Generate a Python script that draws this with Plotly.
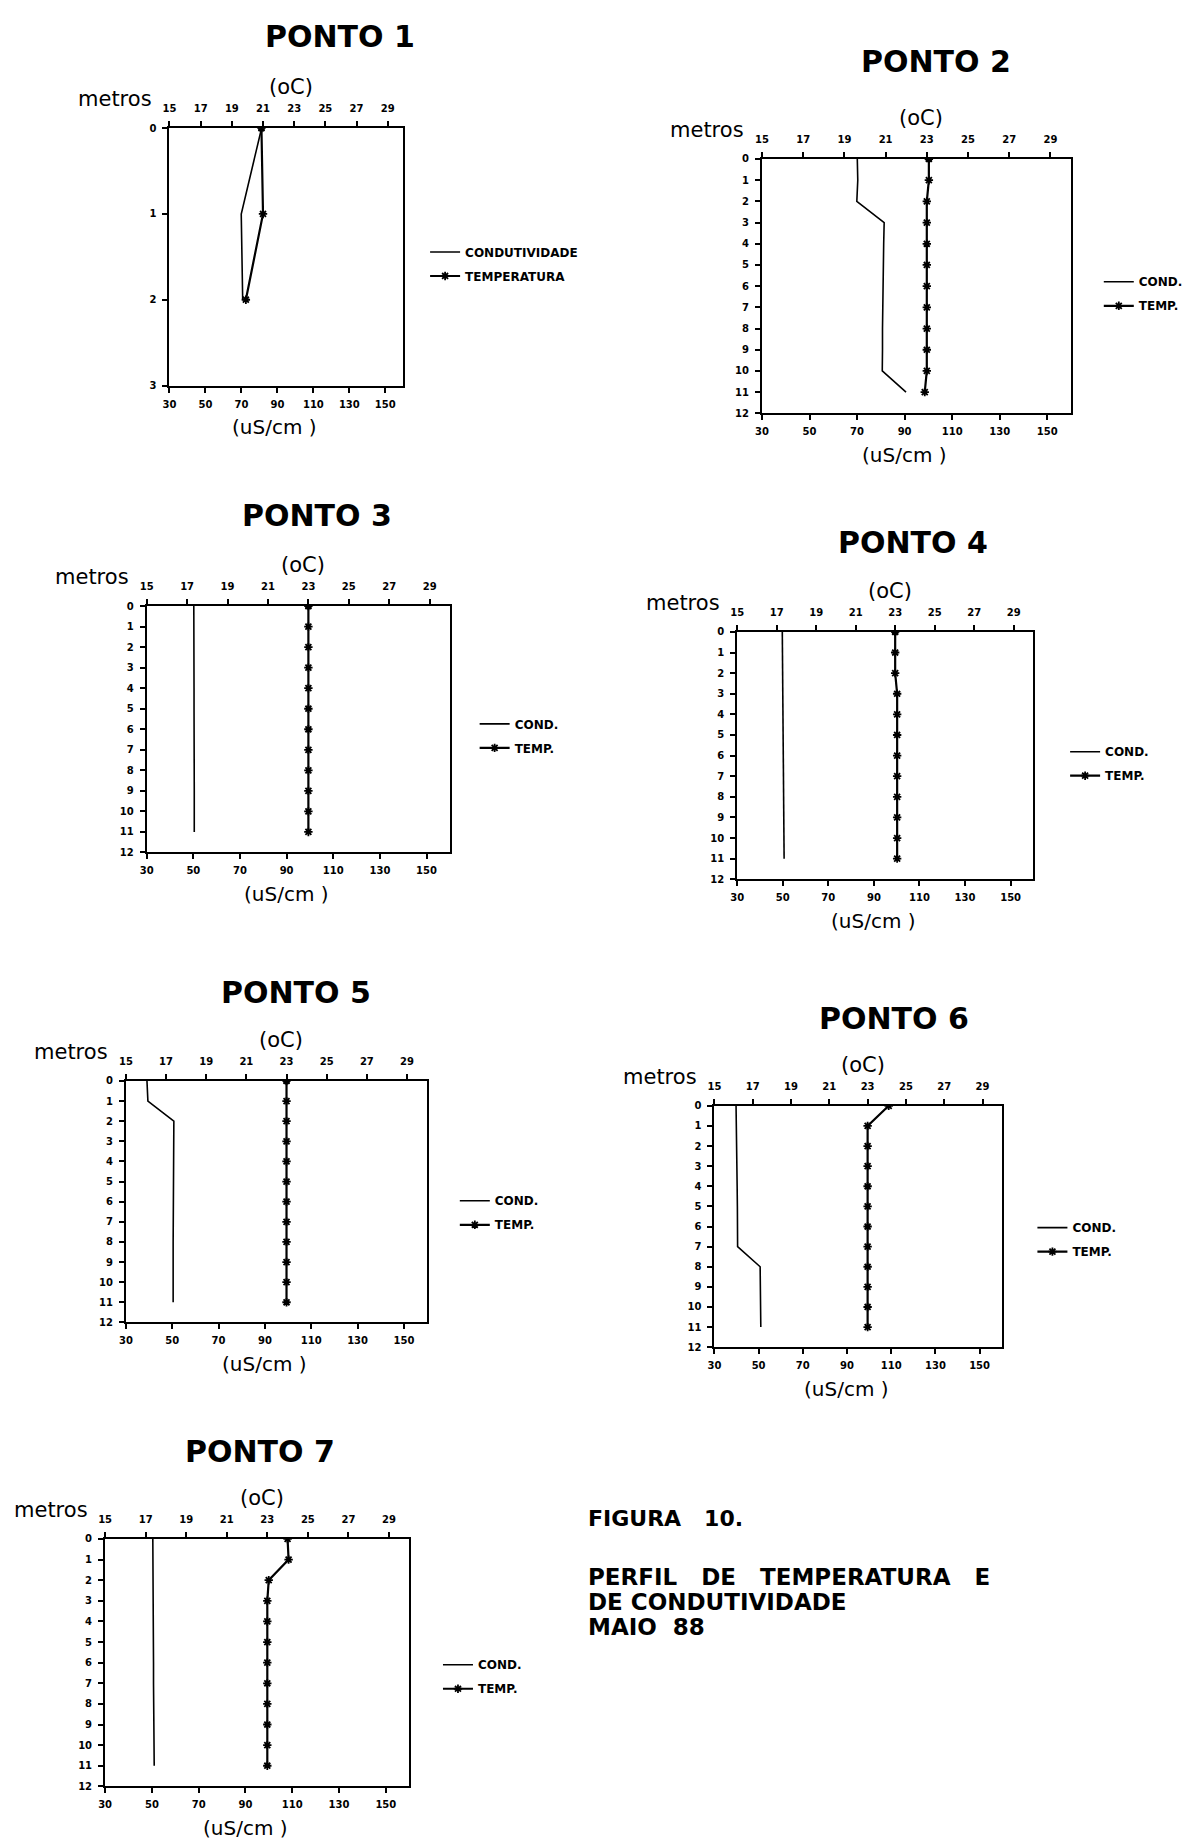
import plotly.graph_objects as go

# ---------------- data ----------------
PANEL_NAMES = ["PONTO 1", "PONTO 2", "PONTO 3", "PONTO 4", "PONTO 5", "PONTO 6", "PONTO 7"]

DEPTH_P1 = [0, 1, 2]
DEPTH = [0, 1, 2, 3, 4, 5, 6, 7, 8, 9, 10, 11]

COND_P1 = [81.2, 69.9, 70.7]
TEMP_P1 = [20.9, 21.0, 19.9]

COND_P2 = [70.1, 70.3, 69.9, 81.4, 81.2, 81.0, 80.9, 80.8, 80.7, 80.7, 80.6, 90.6]
TEMP_P2 = [23.1, 23.1, 23.0, 23.0, 23.0, 23.0, 23.0, 23.0, 23.0, 23.0, 23.0, 22.9]

COND_P3 = [50.2, 50.3, 50.3, 50.3, 50.3, 50.3, 50.4, 50.4, 50.4, 50.4, 50.4, 50.4]
TEMP_P3 = [23.0, 23.0, 23.0, 23.0, 23.0, 23.0, 23.0, 23.0, 23.0, 23.0, 23.0, 23.0]

COND_P4 = [49.8, 49.9, 50.0, 50.0, 50.1, 50.2, 50.2, 50.3, 50.3, 50.4, 50.5, 50.6]
TEMP_P4 = [23.0, 23.0, 23.0, 23.1, 23.1, 23.1, 23.1, 23.1, 23.1, 23.1, 23.1, 23.1]

COND_P5 = [39.1, 39.5, 50.7, 50.6, 50.6, 50.5, 50.5, 50.5, 50.4, 50.4, 50.4, 50.4]
TEMP_P5 = [23.0, 23.0, 23.0, 23.0, 23.0, 23.0, 23.0, 23.0, 23.0, 23.0, 23.0, 23.0]

COND_P6 = [39.8, 40.0, 40.1, 40.2, 40.3, 40.4, 40.4, 40.5, 50.7, 50.8, 50.9, 51.0]
TEMP_P6 = [24.1, 23.0, 23.0, 23.0, 23.0, 23.0, 23.0, 23.0, 23.0, 23.0, 23.0, 23.0]

COND_P7 = [50.4, 50.5, 50.5, 50.5, 50.6, 50.6, 50.7, 50.7, 50.8, 50.8, 50.9, 51.0]
TEMP_P7 = [24.0, 24.05, 23.07, 23.0, 23.0, 23.0, 23.0, 23.0, 23.0, 23.0, 23.0, 23.0]

DEPTHS = [DEPTH_P1, DEPTH, DEPTH, DEPTH, DEPTH, DEPTH, DEPTH]
CONDS = [COND_P1, COND_P2, COND_P3, COND_P4, COND_P5, COND_P6, COND_P7]
TEMPS = [TEMP_P1, TEMP_P2, TEMP_P3, TEMP_P4, TEMP_P5, TEMP_P6, TEMP_P7]
DEPTH_MAX = [3, 12, 12, 12, 12, 12, 12]

TEMP_TICKS = [15, 17, 19, 21, 23, 25, 27, 29]
COND_TICKS = [30, 50, 70, 90, 110, 130, 150]
TEMP_RANGE = [15, 30]
COND_RANGE = [30, 160]

LEGEND_LONG = ["CONDUTIVIDADE", "TEMPERATURA"]
LEGEND_SHORT = ["COND.", "TEMP."]

NB = "\u00a0"
CAPTION = ["FIGURA" + NB * 3 + "10.",
           "PERFIL" + NB * 3 + "DE" + NB * 3 + "TEMPERATURA" + NB * 3 + "E",
           "DE" + NB + "CONDUTIVIDADE",
           "MAIO" + NB * 2 + "88"]
CAPTION_Y = [1522, 1581, 1606, 1632]
CAPTION_SIZE = [22, 23, 23, 23]

# ---------------- layout (pixels) ----------------
W, H = 1188, 1846
BOXES = [(164, 123, 400, 382), (762, 154, 1074, 410), (141, 604, 447, 852),
         (737, 630, 1036, 879), (120, 1082, 424, 1325), (714, 1107, 1004, 1350),
         (99, 1543, 406, 1792)]
TITLE_POS = [(336, 31), (938, 56), (313, 513), (914, 540), (292, 993), (895, 1019), (255, 1455)]
LEGEND_POS = [(432, 251), (1112, 281), (482, 726), (1078, 754), (462, 1206), (1045, 1233), (445, 1673)]
SURFACE_DOT = [True, True, True, True, True, False, False]

FONT = "DejaVu Sans"


def px(x):
    return x / W


def py(y):
    return 1 - y / H


def label(x, y, text, size, bold=False, xanchor="center"):
    f = dict(family=FONT, size=size, color="black")
    if bold:
        f["weight"] = "bold"
    return dict(x=px(x), y=py(y), xref="paper", yref="paper", text=text,
                showarrow=False, xanchor=xanchor, yanchor="middle", font=f)


fig = go.Figure()
annotations = []
layout = {}

for i in range(7):
    x0, y0, x1, y1 = BOXES[i]
    xb = "x" if i == 0 else f"x{2 * i + 1}"
    xt = f"x{2 * i + 2}"
    ya = "y" if i == 0 else f"y{i + 1}"
    leg = "legend" if i == 0 else f"legend{i + 1}"
    names = LEGEND_LONG if i == 0 else LEGEND_SHORT

    fig.add_trace(go.Scatter(
        x=CONDS[i], y=DEPTHS[i], xaxis=xb, yaxis=ya, mode="lines",
        line=dict(color="black", width=1.6), name=names[0],
        legend=leg, legendgroup=f"c{i}"))
    fig.add_trace(go.Scatter(
        x=TEMPS[i], y=DEPTHS[i], xaxis=xt, yaxis=ya, mode="lines+markers",
        line=dict(color="black", width=2.2),
        marker=dict(symbol="asterisk-open", size=7, color="black",
                    line=dict(color="black", width=1.8)),
        name=names[1], legend=leg, legendgroup=f"t{i}"))
    if SURFACE_DOT[i]:
        fig.add_trace(go.Scatter(
            x=TEMPS[i][:1], y=DEPTHS[i][:1], xaxis=xt, yaxis=ya, mode="markers",
            marker=dict(symbol="circle", size=7, color="black"),
            showlegend=False, hoverinfo="skip"))

    tickfont = dict(family=FONT, size=10, color="black", weight="bold")
    common = dict(showline=True, linecolor="black", linewidth=2, ticks="outside",
                  ticklen=5, tickwidth=2, tickcolor="black", showgrid=False,
                  zeroline=False, tickfont=tickfont)
    xb_key = "xaxis" if i == 0 else f"xaxis{2 * i + 1}"
    xt_key = f"xaxis{2 * i + 2}"
    y_key = "yaxis" if i == 0 else f"yaxis{i + 1}"
    layout[xb_key] = dict(domain=[px(x0), px(x1)], anchor=ya, side="bottom",
                          range=COND_RANGE, tickvals=COND_TICKS,
                          ticktext=[str(v) for v in COND_TICKS],
                          ticklabelstandoff=3, **common)
    layout[xt_key] = dict(anchor=ya, overlaying=xb, side="top",
                          range=TEMP_RANGE, tickvals=TEMP_TICKS,
                          ticktext=[str(v) for v in TEMP_TICKS],
                          ticklabelstandoff=5, **common)
    ymax = DEPTH_MAX[i]
    layout[y_key] = dict(domain=[py(y1), py(y0)], anchor=xb, range=[ymax, 0],
                         tickvals=list(range(0, ymax + 1)), mirror=True,
                         ticklabelstandoff=4, **common)

    lx, ly = LEGEND_POS[i]
    layout[leg] = dict(x=px(lx - 10), y=py(ly - 18), xanchor="left", yanchor="top",
                       bgcolor="rgba(0,0,0,0)", borderwidth=0, itemwidth=30,
                       tracegroupgap=5,
                       font=dict(family=FONT, size=12, color="black", weight="bold"))

    cx = (x0 + x1) / 2
    tx, ty = TITLE_POS[i]
    annotations.append(label(tx, ty, PANEL_NAMES[i], 30, bold=True))
    annotations.append(label(x0 - 55, y0 - 29, "metros", 21))
    annotations.append(label(cx + 5, y0 - 41, "(oC)", 21))
    annotations.append(label(cx - 12, y1 + 42, "(uS/cm )", 20))

for txt, yy, sz in zip(CAPTION, CAPTION_Y, CAPTION_SIZE):
    annotations.append(label(584, yy, txt, sz, bold=True, xanchor="left"))

fig.update_layout(width=W, height=H, autosize=False,
                  margin=dict(l=0, r=0, t=0, b=0),
                  paper_bgcolor="white", plot_bgcolor="white",
                  annotations=annotations, **layout)

fig.write_html("out.html")
